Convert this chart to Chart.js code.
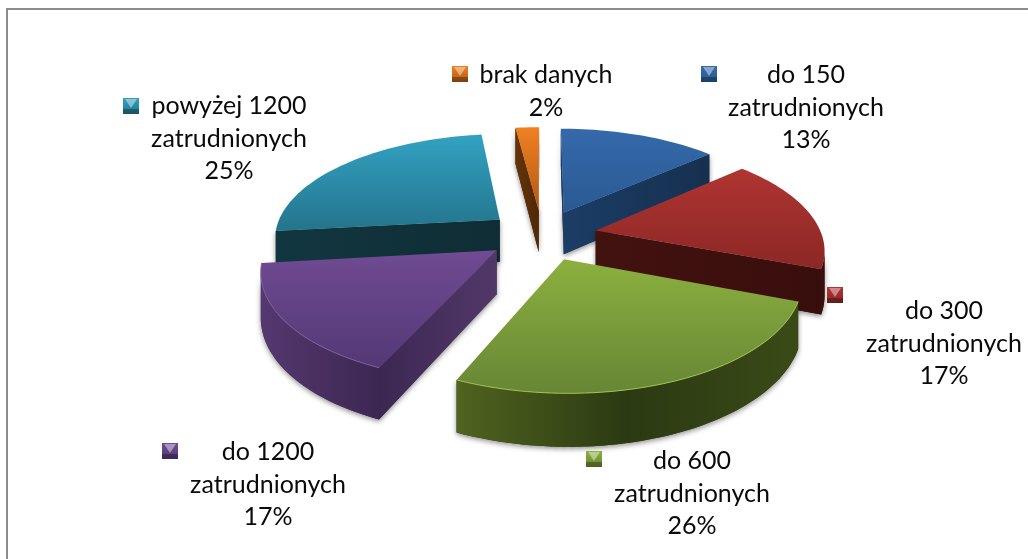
<!DOCTYPE html>
<html><head><meta charset="utf-8">
<style>html,body{margin:0;padding:0;background:#fff;overflow:hidden}#wrap{width:1028px;height:559px;position:relative}</style>
<script src="https://cdn.jsdelivr.net/npm/chart.js@4"></script>
</head><body><div id="wrap"><canvas id="c"></canvas></div>
<script>
const categories = [["do 150","zatrudnionych"],["do 300","zatrudnionych"],["do 600","zatrudnionych"],["do 1200","zatrudnionych"],["powyżej 1200","zatrudnionych"],["brak danych"]];
const values = [13.4,17.4,25.8,16.6,24.8,2.0];

// styling and layout, kept apart from the data
const topColors = [["#3569aa","#2a5a92"],["#af3532","#8c2725"],["#8bb03f","#688635"],["#704b93","#533875"],["#32a2c2","#24748c"],["#f08022","#b05a15"]];
const wallColors = [["#1c3d66","#16304f"],["#42120f","#380e0c"],["#50631f","#2b3a12","#3a4a17"],["#55386f","#3c2752","#523869"],["#123640","#0f2d35"],["#64340a","#4f2806"]];
const rimColors = [null,null,"#a0c052","#7d5ca0",null,null];
const labelPos = [[806,75],[944,311],[692,461],[268,452],[229,106],[546,75]];
const markerPos = [[709,74],[835,295],[594,459],[170,451],[131,106],[460,74]];
const TILT=.46, PERSP=.16, DEPTH=43, LINE=32.7;

function project(arc,X,Y,down){
  const w=1/(1+PERSP*Y), R=arc.outerRadius;
  return [arc.x+R*X*w, arc.y-R*TILT*Y*w+(down?DEPTH*w:0)];
}
function poly(ctx,pts){pts.forEach((p,i)=>i?ctx.lineTo(p[0],p[1]):ctx.moveTo(p[0],p[1]));ctx.closePath();}
function area(pts){let s=0;pts.forEach((p,i)=>{const q=pts[(i+1)%pts.length];s+=p[0]*q[1]-q[0]*p[1];});return s;}
function grad(ctx,x0,y0,x1,y1,c){const g=ctx.createLinearGradient(x0,y0,x1,y1);c.forEach((col,k)=>g.addColorStop(k/(c.length-1),col));return g;}

const pie3d={id:'pie3d',
  beforeDatasetsDraw(chart){
    const ctx=chart.ctx, arcs=chart.getDatasetMeta(0).data.map((arc,i)=>{
      const o=arc.options.offset/arc.outerRadius, a0=arc.startAngle+Math.PI/2, a1=arc.endAngle+Math.PI/2, m=(a0+a1)/2;
      return {arc,i,a0,a1,ox:o*Math.sin(m),oy:o*Math.cos(m)};
    }).sort((p,q)=>q.oy-p.oy);
    arcs.forEach(({arc,i,a0,a1,ox,oy})=>{
      const P=(t,r,d)=>project(arc,ox+r*Math.sin(t),oy+r*Math.cos(t),d);
      const n=Math.max(4,Math.ceil((a1-a0)/.03)), rim=[], quads=[];
      for(let k=0;k<=n;k++)rim.push(a0+(a1-a0)*k/n);
      const topPts=[P(0,0,false),...rim.map(t=>P(t,1,false))];
      for(let k=0;k<n;k++){
        const q=[P(rim[k],1,false),P(rim[k+1],1,false),P(rim[k+1],1,true),P(rim[k],1,true)];
        if(area(q)<0)quads.push(q);
      }
      const s0=[P(0,0,false),P(a0,1,false),P(a0,1,true),P(0,0,true)];
      const s1=[P(a1,1,false),P(0,0,false),P(0,0,true),P(a1,1,true)];
      const all=[...topPts,...quads.flat(),...s0,...s1];
      const xs=all.map(p=>p[0]);
      const xa=Math.min(...xs), xb=Math.max(...xs), ya=Math.min(...topPts.map(p=>p[1])), yb=Math.max(...topPts.map(p=>p[1]));
      // soft drop shadow
      ctx.save();ctx.shadowColor='rgba(0,0,0,.45)';ctx.shadowBlur=5;ctx.shadowOffsetY=2;ctx.fillStyle=wallColors[i][1];
      [s0,s1,...quads].forEach(q=>{if(area(q)<0){ctx.beginPath();poly(ctx,q);ctx.fill();}});
      ctx.restore();
      // side walls
      const wg=grad(ctx,xa,0,xb,0,wallColors[i]);
      [s0,s1].forEach(q=>{if(area(q)<0){ctx.beginPath();poly(ctx,q);ctx.fillStyle=wg;ctx.fill();}});
      ctx.beginPath();quads.forEach(q=>poly(ctx,q));ctx.fillStyle=wg;ctx.fill();
      // top face
      ctx.beginPath();poly(ctx,topPts);ctx.fillStyle=grad(ctx,0,ya,0,yb,topColors[i]);ctx.fill();
      if(rimColors[i]){ctx.beginPath();topPts.slice(1).forEach((p,k)=>k?ctx.lineTo(p[0],p[1]):ctx.moveTo(p[0],p[1]));ctx.strokeStyle=rimColors[i];ctx.lineWidth=1;ctx.stroke();}
    });
    return false;
  },
  afterDraw(chart){
    const ctx=chart.ctx, total=values.reduce((a,b)=>a+b,0);
    ctx.save();
    ctx.strokeStyle='#8c8c8c';ctx.lineWidth=2;ctx.beginPath();ctx.moveTo(7,559);ctx.lineTo(7,9);ctx.lineTo(1028,9);ctx.stroke();
    categories.forEach((lines,i)=>{
      ctx.font='25px Lato';ctx.fillStyle='#0a0a0a';ctx.textAlign='center';ctx.textBaseline='middle';
      const rows=[...lines,Math.round(values[i]/total*100)+'%'], [x,y]=labelPos[i];
      rows.forEach((t,k)=>ctx.fillText(t,x,y+k*LINE));
      const [mx,my]=markerPos[i], s=8;
      ctx.fillStyle=grad(ctx,0,my-s,0,my+s,[topColors[i][0],topColors[i][1]]);ctx.fillRect(mx-s,my-s,2*s,2*s);
      ctx.fillStyle='rgba(0,0,0,.28)';ctx.fillRect(mx-s,my+s-5,2*s,5);
      ctx.beginPath();ctx.moveTo(mx-s+2,my-s+1);ctx.lineTo(mx+s-2,my-s+1);ctx.lineTo(mx,my+2);ctx.closePath();
      ctx.fillStyle='rgba(255,255,255,.42)';ctx.fill();
    });
    ctx.restore();
  }
};

new Chart(document.getElementById('c'),{
  type:'pie',
  data:{labels:categories,datasets:[{data:values,radius:226,offset:55,backgroundColor:topColors.map(c=>c[0]),borderWidth:0}]},
  options:{responsive:true,maintainAspectRatio:false,animation:false,
    layout:{padding:{left:56,right:0,top:0,bottom:89}},
    plugins:{legend:{display:false},tooltip:{enabled:false}}},
  plugins:[pie3d]
});
</script></body></html>
